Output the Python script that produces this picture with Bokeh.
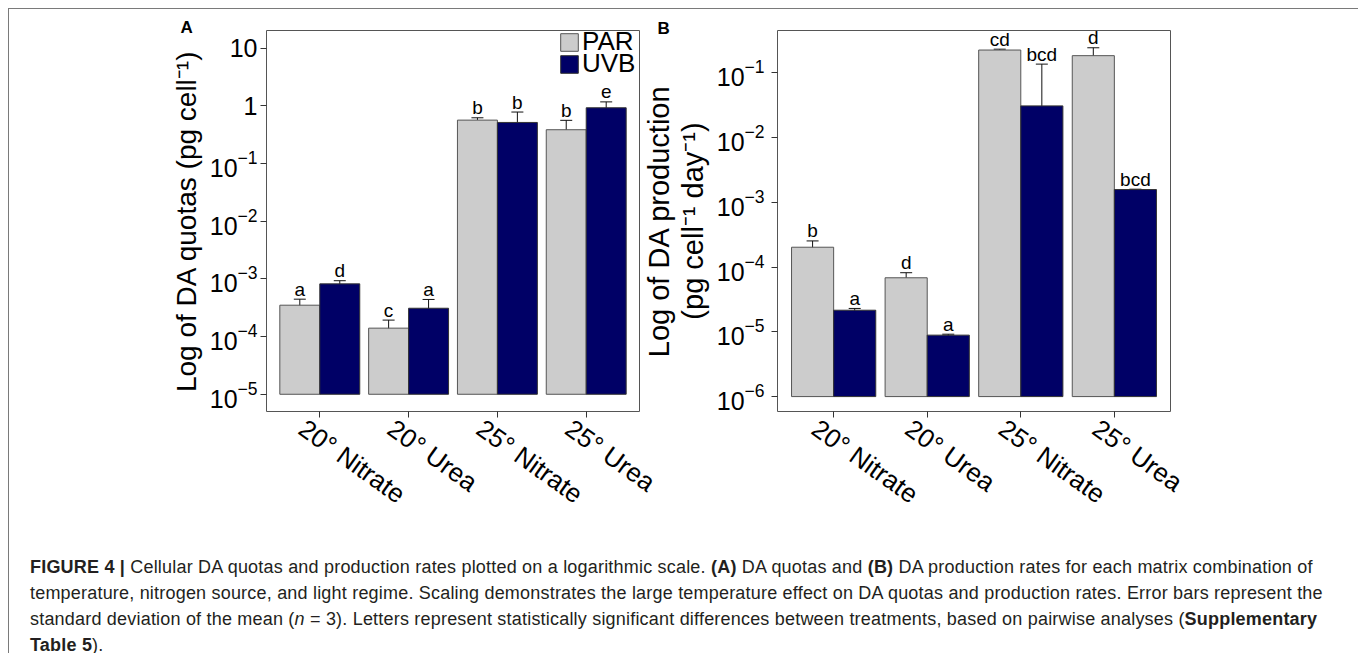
from bokeh.plotting import figure
from bokeh.models import (Range1d, FixedTicker, Whisker, TeeHead, LinearAxis, Title,
                          ColumnDataSource, Legend, LegendItem, Div)
from bokeh.transform import dodge
from bokeh.layouts import row, column
from bokeh.core.properties import value
from bokeh.embed import file_html
from bokeh.resources import INLINE

# ---------------- data ----------------
categories = ["20° Nitrate", "20° Urea", "25° Nitrate", "25° Urea"]
series = ["PAR", "UVB"]

# Panel A: DA quotas (pg cell-1)
quota_par = [3.5e-4, 1.4e-4, 0.565, 0.385]
quota_par_hi = [4.45e-4, 1.93e-4, 0.62, 0.56]
quota_par_lo = [2.6e-4, 9.0e-5, 0.50, 0.21]
quota_uvb = [8.2e-4, 3.1e-4, 0.515, 0.925]
quota_uvb_hi = [9.3e-4, 4.4e-4, 0.78, 1.17]
quota_uvb_lo = [6.9e-4, 1.8e-4, 0.27, 0.70]
quota_par_letters = ["a", "c", "b", "b"]
quota_uvb_letters = ["d", "a", "b", "e"]
quota_ticks = [1e-5, 1e-4, 1e-3, 1e-2, 1e-1, 1, 10]

# Panel B: DA production (pg cell-1 day-1)
prod_par = [2.03e-4, 6.85e-5, 0.226, 0.185]
prod_par_hi = [2.54e-4, 8.2e-5, 0.233, 0.245]
prod_par_lo = [1.53e-4, 5.5e-5, 0.218, 0.128]
prod_uvb = [2.16e-5, 8.9e-6, 0.031, 1.58e-3]
prod_uvb_hi = [2.3e-5, 9.2e-6, 0.137, 1.6e-3]
prod_uvb_lo = [2.05e-5, 8.6e-6, 0.0071, 1.56e-3]
prod_par_letters = ["b", "d", "cd", "d"]
prod_uvb_letters = ["a", "a", "bcd", "bcd"]
prod_ticks = [1e-6, 1e-5, 1e-4, 1e-3, 1e-2, 1e-1]

FONT = "Liberation Sans"
PAR_FILL = "#cccccc"
UVB_FILL = "#000066"
EDGE = "#555555"
LABEL_SHIFT = 0.2   # rotated category labels start a little left of their tick

# category slots on the x axis (one unit per category)
xpos = [i + 0.5 for i in range(len(categories))]


def panel(par, par_hi, par_lo, uvb, uvb_hi, uvb_lo, lab_par, lab_uvb,
          ticks, yr, base, ylabel, ylabel_size, width, mb_left, mb_right, mb_top, mb_bottom,
          label_standoff, overrides, border_fill, tag, tag_offset, tag_standoff):
    src = ColumnDataSource(dict(x=xpos, cat=categories, par=par, par_hi=par_hi, par_lo=par_lo,
                                uvb=uvb, uvb_hi=uvb_hi, uvb_lo=uvb_lo,
                                lab_par=lab_par, lab_uvb=lab_uvb))
    p = figure(x_range=Range1d(-0.1, len(categories) + 0.1),
               y_axis_type="log", y_range=Range1d(*yr), width=width, height=540,
               min_border_left=mb_left, min_border_right=mb_right,
               min_border_top=mb_top, min_border_bottom=mb_bottom,
               toolbar_location=None, output_backend="svg")
    p.title = Title(text=tag, align="left", offset=tag_offset, standoff=tag_standoff,
                    vertical_align="top", text_font=FONT, text_font_size="17px",
                    text_font_style="bold", text_color="black")
    p.border_fill_color = border_fill
    p.background_fill_color = "white"
    p.outline_line_color = EDGE
    p.outline_line_width = 1
    p.grid.visible = False

    off = 0.225
    r_par = p.vbar(x=dodge("x", -off), top="par", bottom=base,
                   width=0.45, source=src, fill_color=PAR_FILL, line_color=EDGE, line_width=1)
    r_uvb = p.vbar(x=dodge("x", off), top="uvb", bottom=base,
                   width=0.45, source=src, fill_color=UVB_FILL, line_color="#333333", line_width=1)

    for o, hi, lo in ((-off, "par_hi", "par_lo"), (off, "uvb_hi", "uvb_lo")):
        w = Whisker(source=src, base=dodge("x", o), upper=hi, lower=lo,
                    line_color="#111111", line_width=1,
                    upper_head=TeeHead(size=12, line_color="#111111", line_width=1),
                    lower_head=TeeHead(size=12, line_color="#111111", line_width=1))
        p.add_layout(w)

    for o, hi, lab in ((-off, "par_hi", "lab_par"), (off, "uvb_hi", "lab_uvb")):
        p.text(x=dodge("x", o), y=hi, text=lab, source=src,
               text_align="center", text_baseline="middle", y_offset=-10,
               text_font=value(FONT), text_font_size="19px", text_color="black")

    for ax in (p.xaxis[0], p.yaxis[0]):
        ax.axis_line_color = None
        ax.major_tick_line_color = "#333333"
        ax.major_tick_out = 6
        ax.major_tick_in = 0
        ax.minor_tick_line_color = None
        ax.major_label_text_font = FONT
        ax.major_label_text_color = "black"

    # tick marks at the category centres, labels from a companion axis
    p.xaxis.ticker = FixedTicker(ticks=xpos)
    p.xaxis.major_label_text_color = None
    p.xaxis.major_label_text_font_size = "1px"
    p.xaxis.major_label_standoff = 0
    lab_pos = [x - LABEL_SHIFT for x in xpos]
    lab_axis = LinearAxis(ticker=FixedTicker(ticks=lab_pos),
                          major_label_overrides=dict(zip(lab_pos, categories)),
                          axis_line_color=None, major_tick_line_color=None,
                          minor_tick_line_color=None, major_label_orientation=-0.62,
                          major_label_text_font=FONT, major_label_text_font_size="26px",
                          major_label_text_color="black", major_label_standoff=2)
    p.add_layout(lab_axis, "below")

    p.yaxis.ticker = FixedTicker(ticks=ticks)
    p.yaxis.major_label_text_font_size = "25px"
    p.yaxis.major_label_standoff = label_standoff
    if overrides:
        p.yaxis.major_label_overrides = overrides
    p.yaxis.axis_label = ylabel
    p.yaxis.axis_label_text_font = FONT
    p.yaxis.axis_label_text_font_size = ylabel_size
    p.yaxis.axis_label_text_font_style = "normal"
    p.yaxis.axis_label_text_color = "black"
    p.yaxis.axis_label_text_line_height = 1.05
    p.yaxis.axis_label_standoff = 5
    return p, r_par, r_uvb


pA, a_par, a_uvb = panel(quota_par, quota_par_hi, quota_par_lo, quota_uvb, quota_uvb_hi,
                         quota_uvb_lo, quota_par_letters, quota_uvb_letters, quota_ticks,
                         (10 ** -5.2986, 10 ** 1.3055), 1e-5, "Log of DA quotas (pg cell⁻¹)",
                         "28px", 680, 257, 50, 19, 138, 3, {1: "1", 10: "10"}, "white",
                         "A", -86, -26)

pB, b_par, b_uvb = panel(prod_par, prod_par_hi, prod_par_lo, prod_uvb, prod_uvb_hi,
                         prod_uvb_lo, prod_par_letters, prod_uvb_letters, prod_ticks,
                         (10 ** -6.2305, 10 ** -0.344), 1e-6,
                         "Log of DA production\n(pg cell⁻¹ day⁻¹)", "29px",
                         725, 147, 185, 21, 136, 7, None, None,
                         "B", -120, -24)
pB.margin = (0, 0, 0, -59)

# legend (panel A), one entry per box so rows sit tightly
for name, rend, vy in (("PAR", a_par, 354), ("UVB", a_uvb, 332)):
    leg = Legend(items=[LegendItem(label=name, renderers=[rend])], location=(292, vy),
                 orientation="vertical", padding=0, spacing=0, margin=0,
                 glyph_width=22, glyph_height=22, label_standoff=2,
                 label_text_font=FONT, label_text_font_size="26px", label_text_color="black",
                 border_line_color=None, background_fill_alpha=0)
    pA.add_layout(leg, "center")

caption_lines = [
    "<b>FIGURE 4 |</b> Cellular DA quotas and production rates plotted on a logarithmic scale. "
    "<b>(A)</b> DA quotas and <b>(B)</b> DA production rates for each matrix combination of",
    "temperature, nitrogen source, and light regime. Scaling demonstrates the large temperature "
    "effect on DA quotas and production rates. Error bars represent the",
    "standard deviation of the mean (<i>n</i> = 3). Letters represent statistically significant "
    "differences between treatments, based on pairwise analyses (<b>Supplementary</b>",
    "<b>Table 5</b>).",
]
caption = Div(
    text=('<div style="padding-left:16px; font-family:\'Liberation Sans\',sans-serif; '
          'font-size:18px; letter-spacing:0.2px; line-height:26px; color:#231f20; '
          'white-space:nowrap;">' + "<br>".join(caption_lines) + "</div>"),
    width=1346, height=104)

layout = column(row(pA, pB), caption, margin=(8, 0, 0, 8),
                styles={"border-left": "1px solid #7a7a7a", "border-top": "1px solid #7a7a7a",
                        "border-right": "1px solid #7a7a7a"})

open("out.html", "w").write(file_html(layout, INLINE))
